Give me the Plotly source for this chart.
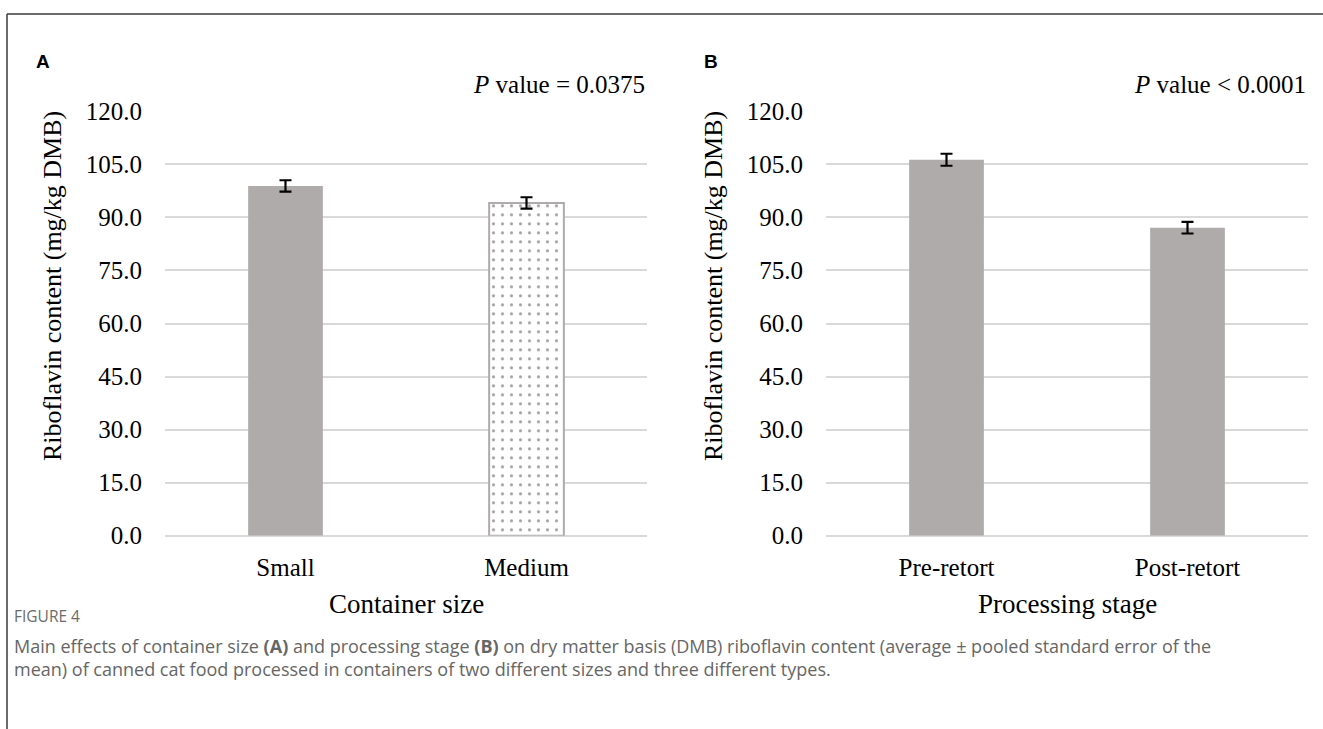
import plotly.graph_objects as go

# Riboflavin content (mg/kg DMB), mean and pooled SEM
size_labels = ["Small", "Medium"]
size_means = [98.9, 94.1]
size_sem = [1.6, 1.6]

stage_labels = ["Pre-retort", "Post-retort"]
stage_means = [106.3, 87.1]
stage_sem = [1.7, 1.65]

y_ticks = [0, 15, 30, 45, 60, 75, 90, 105, 120]

BAR_GRAY = "#AFABAB"
GRID = "#D9D9D9"
SERIF = "Liberation Serif, Times New Roman, serif"
W, H = 1323, 729


def px(x):
    return x / W


def py(y):
    return 1 - y / H


fig = go.Figure()

# Panel A: container size (Small solid, Medium white with grey dots)
fig.add_trace(go.Bar(
    x=size_labels, y=size_means, width=0.31,
    marker=dict(
        color=[BAR_GRAY, "white"],
        line=dict(color=BAR_GRAY, width=[0, 2]),
        pattern=dict(shape=["", "."], fgcolor=BAR_GRAY,
                     size=9, solidity=0.1, fillmode="overlay"),
    ),
    error_y=dict(type="data", array=size_sem, color="black", thickness=2.2, width=6),
    xaxis="x", yaxis="y", showlegend=False,
))

# Panel B: processing stage
fig.add_trace(go.Bar(
    x=stage_labels, y=stage_means, width=0.31,
    marker=dict(color=BAR_GRAY, line=dict(width=0)),
    error_y=dict(type="data", array=stage_sem, color="black", thickness=2.2, width=6),
    xaxis="x2", yaxis="y2", showlegend=False,
))

y_top, y_bot = 111.3, 535.7
ydom = [py(y_bot), py(y_top)]

yax = dict(
    range=[0, 120], tickvals=y_ticks, tickformat=".1f",
    showgrid=True, gridcolor=GRID, gridwidth=1.5,
    zeroline=True, zerolinecolor=GRID, zerolinewidth=1.5,
    showline=False, ticks="", ticklabelstandoff=22,
    tickfont=dict(family=SERIF, size=25, color="black"),
    domain=ydom, fixedrange=True, automargin=False,
)
xax = dict(
    showline=False, showgrid=False, ticks="", ticklabelstandoff=14,
    tickfont=dict(family=SERIF, size=25, color="black"),
    fixedrange=True, automargin=False,
)

fig.update_layout(
    width=W, height=H,
    margin=dict(l=0, r=0, t=0, b=0, pad=0, autoexpand=False),
    paper_bgcolor="white", plot_bgcolor="white",
    barmode="overlay", showlegend=False,
    xaxis=dict(xax, domain=[px(165), px(647)], anchor="y"),
    yaxis=dict(yax, anchor="x"),
    xaxis2=dict(xax, domain=[px(826), px(1308)], anchor="y2"),
    yaxis2=dict(yax, anchor="x2"),
)

ann = []
# Y-axis titles
for xc in (52, 713):
    ann.append(dict(
        text="Riboflavin content (mg/kg DMB)", textangle=-90,
        x=px(xc), y=py(286), xref="paper", yref="paper",
        xanchor="center", yanchor="middle", showarrow=False,
        font=dict(family=SERIF, size=26, color="black"),
    ))
# X-axis titles
ann.append(dict(text="Container size", x=px(406), y=py(604), xref="paper", yref="paper",
                xanchor="center", yanchor="middle", showarrow=False,
                font=dict(family=SERIF, size=27, color="black")))
ann.append(dict(text="Processing stage", x=px(1067), y=py(604), xref="paper", yref="paper",
                xanchor="center", yanchor="middle", showarrow=False,
                font=dict(family=SERIF, size=27, color="black")))
# P values
ann.append(dict(text="<i>P</i> value = 0.0375", x=px(647), y=py(84), xref="paper", yref="paper",
                xanchor="right", yanchor="middle", showarrow=False,
                font=dict(family=SERIF, size=25, color="black")))
ann.append(dict(text="<i>P</i> value < 0.0001", x=px(1308), y=py(84), xref="paper", yref="paper",
                xanchor="right", yanchor="middle", showarrow=False,
                font=dict(family=SERIF, size=25, color="black")))
# Panel letters
for lab, xl in (("A", 34), ("B", 702)):
    ann.append(dict(text="<b>" + lab + "</b>", x=px(xl), y=py(62), xref="paper", yref="paper",
                    xanchor="left", yanchor="middle", showarrow=False,
                    font=dict(family="Liberation Sans, Arial, sans-serif", size=19, color="black")))
# Caption
CAP = "Open Sans, Noto Sans, sans-serif"
ann.append(dict(text="FIGURE 4", x=px(12), y=py(616), xref="paper", yref="paper",
                xanchor="left", yanchor="middle", showarrow=False,
                font=dict(family=CAP, size=15.5, color="#6b6b6b")))
ann.append(dict(
    text="Main effects of container size <b>(A)</b> and processing stage <b>(B)</b> on dry matter basis (DMB) "
         "riboflavin content (average ± pooled standard error of the<br>"
         "mean) of canned cat food processed in containers of two different sizes and three different types.",
    x=px(12), y=py(657), xref="paper", yref="paper",
    xanchor="left", yanchor="middle", align="left", showarrow=False,
    font=dict(family=CAP, size=18, color="#666666")))
fig.update_layout(annotations=ann)

# Figure frame: top and left rules
fig.update_layout(shapes=[
    dict(type="line", xref="paper", yref="paper", x0=px(7), x1=1, y0=py(14), y1=py(14),
         line=dict(color="#3a3a3a", width=1.5)),
    dict(type="line", xref="paper", yref="paper", x0=px(7), x1=px(7), y0=py(14), y1=0,
         line=dict(color="#3a3a3a", width=1.5)),
])

fig.write_html("out.html")
